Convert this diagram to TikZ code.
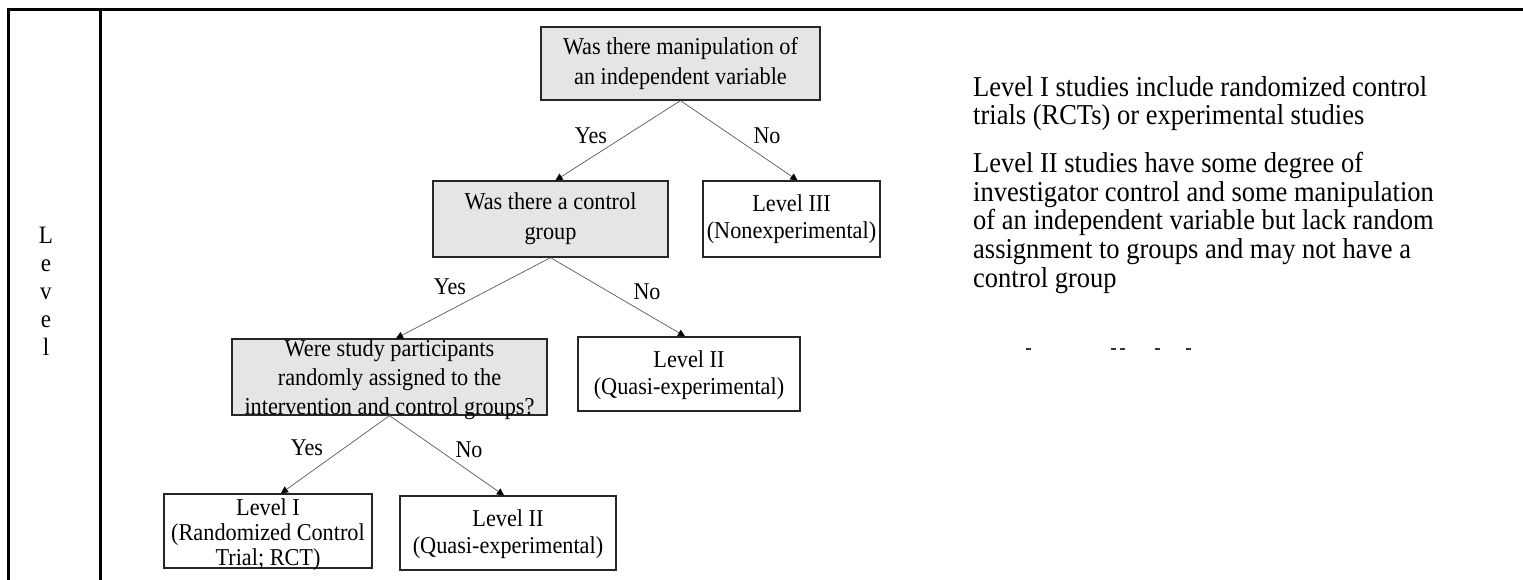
\documentclass[tikz,border=0pt]{standalone}
\usepackage{fontspec}
\setmainfont{Liberation Serif}
\newfontfamily\boxfont{Liberation Serif}[FakeStretch=0.92]
\usetikzlibrary{arrows.meta,calc}
\begin{document}
\begin{tikzpicture}[x=1pt,y=-1pt,
  box/.style={draw=black!85,line width=1.3pt,inner sep=0pt},
  qbox/.style={box,fill=black!10},
  lbox/.style={box,fill=white},
  btxt/.style={align=center,inner sep=0pt,font=\boxfont\fontsize{24.2}{30}\selectfont},
  ltxt/.style={btxt,font=\boxfont\fontsize{24.2}{27}\selectfont},
  conn/.style={draw=black!65,line width=0.7pt,-{Triangle[length=7pt,width=7pt,color=black]}},
  lab/.style={font=\boxfont\fontsize{24}{26}\selectfont,inner sep=0pt},
  side/.style={font=\boxfont\fontsize{28.8}{28.7}\selectfont,align=left,inner sep=0pt,anchor=north west},
  frame/.style={line width=3pt,black}]
\useasboundingbox (0,0) rectangle (1523,580);

% table frame
\draw[frame] (8,580) -- (8,10) -- (1523,10);
\draw[frame] (100,10) -- (100,580);

% column label, one letter per line
\node[font=\boxfont\fontsize{25}{28}\selectfont,align=center,inner sep=0pt] (lvl) at (46,291)
  {L\\e\\v\\e\\l};

% boxes
\node[qbox,minimum width=279pt,minimum height=73pt] (q1) at (680.5,63.5) {};
\node[qbox,minimum width=235pt,minimum height=76pt] (q2) at (550.5,219) {};
\node[lbox,minimum width=177pt,minimum height=76pt] (l3) at (791.5,219) {};
\node[qbox,minimum width=315pt,minimum height=76pt] (q3) at (389.5,377) {};
\node[lbox,minimum width=222pt,minimum height=74pt] (l2a) at (689,374) {};
\node[lbox,minimum width=208pt,minimum height=74pt] (l1) at (268,531) {};
\node[lbox,minimum width=216pt,minimum height=74pt] (l2b) at (508,533) {};

% box texts
\node[btxt] (q1t) at (q1.center) {Was there manipulation of\\an independent variable};
\node[btxt] (q2t) at (q2.center) {Was there a control\\group};
\node[ltxt] (l3t) at (l3.center) {Level III\\(Nonexperimental)};
\node[btxt,font=\boxfont\fontsize{24.2}{29}\selectfont] (q3t) at ($(q3.center)+(0,3)$)
  {Were study participants\\randomly assigned to the\\intervention and control groups?};
\node[ltxt] (l2at) at ($(l2a.center)+(0,1)$) {Level II\\(Quasi-experimental)};
\node[btxt,font=\boxfont\fontsize{24.2}{25}\selectfont] (l1t) at ($(l1.center)+(0,4)$)
  {Level I\\(Randomized Control\\Trial; RCT)};
\node[ltxt] (l2bt) at ($(l2b.center)+(0,1)$) {Level II\\(Quasi-experimental)};

% connectors
\draw[conn] (q1.south) -- ($(q2.north)+(5,0)$);
\draw[conn] (q1.south) -- ($(l3.north)+(6,0)$);
\draw[conn] (q2.south) -- ($(q3.north)+(6.5,0)$);
\draw[conn] (q2.south) -- ($(l2a.north)+(-4,0)$);
\draw[conn] (q3.south) -- ($(l1.north)+(13,0)$);
\draw[conn] (q3.south) -- ($(l2b.north)+(-4,0)$);

% branch labels
\node[lab] (y1) at (591,136) {Yes};
\node[lab] (n1) at (767,136) {No};
\node[lab] (y2) at (450,287) {Yes};
\node[lab] (n2) at (647,292) {No};
\node[lab] (y3) at (307,448) {Yes};
\node[lab] (n3) at (469,450) {No};

% notes
\node[side] (t1) at (973,76)
  {Level I studies include randomized control\\trials (RCTs) or experimental studies};
\node[side] (t2) at (973,152)
  {Level II studies have some degree of\\investigator control and some manipulation\\of an independent variable but lack random\\assignment to groups and may not have a\\control group};

% cut-off line below the notes
\foreach \px in {1028,1113,1122,1157,1188}
  \fill[black!80] (\px-2.5,348) rectangle (\px+2.5,350);
\end{tikzpicture}
\end{document}
